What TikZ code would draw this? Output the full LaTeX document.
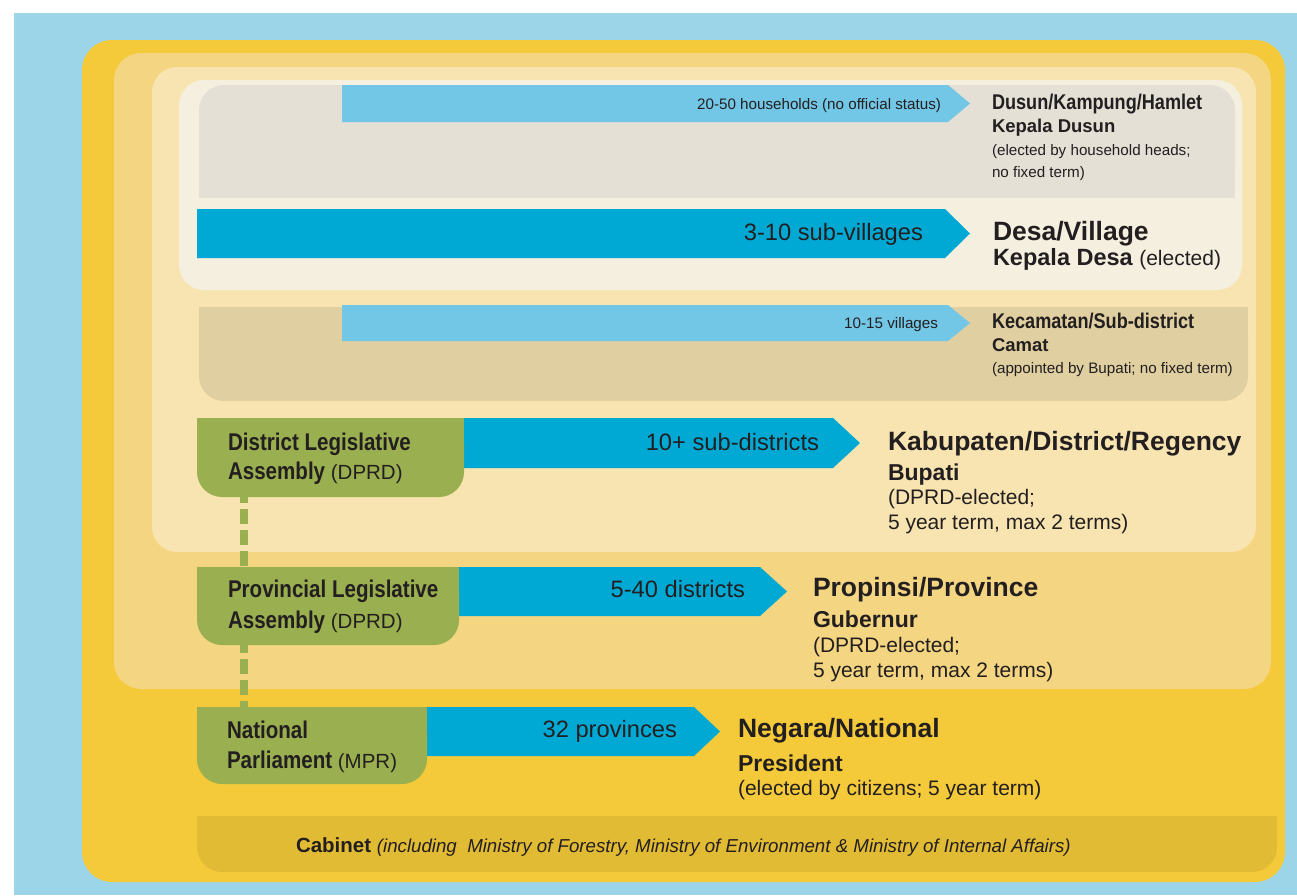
\documentclass[tikz,border=0pt]{standalone}
\usepackage{fontspec}
\setmainfont{Liberation Sans}
\newfontfamily\condfont[FakeStretch=0.85]{Liberation Sans}
\usetikzlibrary{calc}

\definecolor{skyband}{HTML}{9DD5E8}
\definecolor{gold}{HTML}{F4CA3A}
\definecolor{wheat}{HTML}{F4D581}
\definecolor{cornsilk}{HTML}{F7E4B1}
\definecolor{creamy}{HTML}{F5EFE0}
\definecolor{stone}{HTML}{E4E0D5}
\definecolor{sand}{HTML}{E0CFA1}
\definecolor{cabinetgold}{HTML}{E2BB34}
\definecolor{paleblue}{HTML}{73C7E6}
\definecolor{deepblue}{HTML}{00A9D4}
\definecolor{leaf}{HTML}{9AAF4F}
\definecolor{ink}{HTML}{231F20}

% arrow band: start x, body end x, tip x, top y, bottom y, colour
\newcommand\govarrow[6]{\fill[#6] (#1,#4) -- (#2,#4) -- (#3,{(#4+#5)/2}) -- (#2,#5) -- (#1,#5) -- cycle;}

\tikzset{
  txt/.style={inner sep=0pt, outer sep=0pt, text=ink, anchor=base west},
  rtxt/.style={txt, anchor=base east},
  bigtitle/.style={txt, font=\bfseries\fontsize{26.5}{30}\selectfont},
  bigsub/.style={txt, font=\bfseries\fontsize{23}{26}\selectfont},
  bignote/.style={txt, font=\fontsize{21}{24}\selectfont},
  smalltitle/.style={txt, font=\condfont\bfseries\fontsize{21.3}{24}\selectfont},
  smallsub/.style={txt, font=\bfseries\fontsize{18.5}{21}\selectfont},
  smallnote/.style={txt, font=\fontsize{15.2}{18}\selectfont},
  biglabel/.style={rtxt, font=\fontsize{23.7}{27}\selectfont},
  smalllabel/.style={rtxt, font=\fontsize{15.2}{18}\selectfont},
  greentxt/.style={txt, font=\condfont\bfseries\fontsize{24.2}{28}\selectfont},
  gbox/.style={anchor=north west, fill=leaf, rounded corners=25pt, inner sep=0pt, outer sep=0pt},
  link/.style={leaf, line width=8pt, dash pattern=on 15pt off 6pt},
}
\newcommand\paren[1]{{\normalfont\fontsize{20.5}{24}\selectfont\ #1}}

\begin{document}
\begin{tikzpicture}[x=1pt,y=-1pt]
\useasboundingbox (0,0) rectangle (1297,895);

% nested levels
\fill[skyband] (14,13) rectangle (1297,895);
\fill[gold, rounded corners=30pt] (82,40) rectangle (1285,882);
\fill[wheat, rounded corners=27pt] (114,53) rectangle (1271,689);
\fill[cornsilk, rounded corners=25pt] (152,67) rectangle (1256,552);
\fill[creamy, rounded corners=25pt] (179,80) rectangle (1242,290);

% hamlet band (rounded on top)
\fill[stone, rounded corners=25pt] (199,85) rectangle (1235,198);
\fill[stone] (199,140) rectangle (1235,198);
% sub-district band (rounded at the bottom)
\fill[sand, rounded corners=25pt] (199,307) rectangle (1248,401);
\fill[sand] (199,307) rectangle (1248,360);
% cabinet band (rounded at the bottom)
\fill[cabinetgold, rounded corners=25pt] (197,816) rectangle (1277,872);
\fill[cabinetgold] (197,816) rectangle (1277,842);

% arrows
\govarrow{342}{948}{970}{85}{122}{paleblue}
\govarrow{197}{945}{970}{209}{258}{deepblue}
\govarrow{342}{948}{970}{305}{341}{paleblue}
\govarrow{463}{833}{860}{418}{468}{deepblue}
\govarrow{458}{760}{787}{567}{616}{deepblue}
\govarrow{426}{694}{720}{707}{756}{deepblue}

% legislative boxes
\node[gbox, minimum width=267pt, minimum height=79pt] (dla) at (197,418) {};
\node[gbox, minimum width=262pt, minimum height=78pt] (pla) at (197,567) {};
\node[gbox, minimum width=230pt, minimum height=77pt] (mpr) at (197,707) {};
\fill[leaf] (dla.north west) rectangle (dla.east);
\fill[leaf] (pla.north west) rectangle (pla.east);
\fill[leaf] (mpr.north west) rectangle (mpr.east);

% links between assemblies
\draw[link, dash phase=9pt] ($(dla.south west)+(47,0)$) -- ($(pla.north west)+(47,0)$);
\draw[link, dash phase=7pt] ($(pla.south west)+(47,0)$) -- ($(mpr.north west)+(47,0)$);

% assembly labels
\node[greentxt] (dla1) at (228,450) {District Legislative};
\node[greentxt] (dla2) at (228,479) {Assembly\paren{(DPRD)}};
\node[greentxt] (pla1) at (228,597) {Provincial Legislative};
\node[greentxt] (pla2) at (228,628) {Assembly\paren{(DPRD)}};
\node[greentxt] (mpr1) at (227,738) {National};
\node[greentxt] (mpr2) at (227,768) {Parliament\paren{(MPR)}};

% arrow labels
\node[smalllabel] (hhl) at (941,109.5) {20-50 households (no official status)};
\node[biglabel] (svl) at (923,240) {3-10 sub-villages};
\node[smalllabel] (vil) at (938,328) {10-15 villages};
\node[biglabel] (sdl) at (819,450) {10+ sub-districts};
\node[biglabel] (dsl) at (745,597) {5-40 districts};
\node[biglabel] (pvl) at (677,737) {32 provinces};

% hamlet
\node[smalltitle] (dus1) at (992,109) {Dusun/Kampung/Hamlet};
\node[smallsub] (dus2) at (992,132) {Kepala Dusun};
\node[smallnote] (dus3) at (992,155) {(elected by household heads;};
\node[smallnote] (dus4) at (992,177) {no fixed term)};

% village
\node[bigtitle] (des1) at (993,240) {Desa/Village};
\node[txt] (des2) at (993,265) {{\bfseries\fontsize{23.5}{26}\selectfont Kepala Desa\ }{\fontsize{21}{24}\selectfont(elected)}};

% sub-district
\node[smalltitle] (kec1) at (992,328) {Kecamatan/Sub-district};
\node[smallsub] (kec2) at (992,351) {Camat};
\node[smallnote] (kec3) at (992,373) {(appointed by Bupati; no fixed term)};

% district
\node[bigtitle] (kab1) at (888,450) {Kabupaten/District/Regency};
\node[bigsub] (kab2) at (888,480) {Bupati};
\node[bignote] (kab3) at (888,504) {(DPRD-elected;};
\node[bignote] (kab4) at (888,529) {5 year term, max 2 terms)};

% province
\node[bigtitle] (pro1) at (813,596) {Propinsi/Province};
\node[bigsub] (pro2) at (813,627) {Gubernur};
\node[bignote] (pro3) at (813,652) {(DPRD-elected;};
\node[bignote] (pro4) at (813,677) {5 year term, max 2 terms)};

% national
\node[bigtitle] (neg1) at (738,737) {Negara/National};
\node[bigsub] (neg2) at (738,771) {President};
\node[bignote] (neg3) at (738,795) {(elected by citizens; 5 year term)};

% cabinet
\node[txt] (cab) at (296,852) {{\bfseries\fontsize{20.5}{24}\selectfont Cabinet\ }{\itshape\fontsize{18.7}{22}\selectfont(including\ \ Ministry of Forestry, Ministry of Environment \& Ministry of Internal Affairs)}};
\end{tikzpicture}
\end{document}
